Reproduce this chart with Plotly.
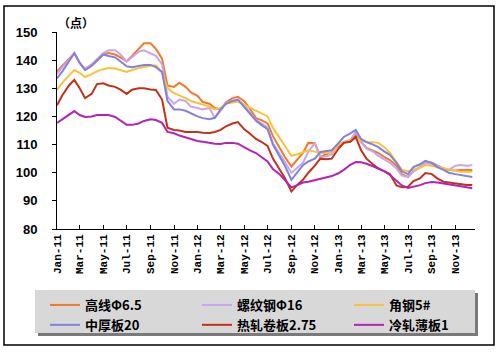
import plotly.graph_objects as go

# semi-monthly observation dates, Jan 2011 - Dec 2013
dates = []
for yr in (2011, 2012, 2013):
    for mo in range(1, 13):
        dates.append(f"{yr}-{mo:02d}-01")
        dates.append(f"{yr}-{mo:02d}-15")

gaoxian = [136, 138, 140.5, 142.5, 139, 136.5, 138, 140, 142, 142.5, 142, 141,
           139.5, 141.5, 144, 146, 146, 144, 140.5, 131, 130.5, 132, 130.5, 128.5,
           127.3, 125.1, 124.5, 123, 122.5, 125, 126.5, 127, 125.5, 123, 119.4, 118.7,
           117.5, 113, 109, 105.6, 102.2, 104.5, 107, 110.6, 110.5, 105.6, 106.5, 107.4,
           109.5, 110.6, 111.5, 113.4, 111, 108.8, 107.8, 107, 105.5, 104.5, 102.5, 99.5,
           98.5, 100.5, 102, 103.5, 103.5, 102.5, 101.5, 101, 100.8, 101, 101, 101]
luowen = [135, 137.5, 140, 142.5, 139, 137, 138.5, 140.5, 142.5, 143.5, 143.5, 142,
          139.5, 141, 143, 143.5, 142.5, 141.5, 138.5, 127, 124.5, 126, 125.5, 123.5,
          123, 122.5, 123, 119.5, 122, 124.8, 125.5, 126, 124, 121.5, 118.7, 117.5,
          116, 110.5, 107, 103.8, 100, 101.5, 103.5, 107.5, 110.5, 105.6, 105.8, 106.5,
          110, 111, 111.5, 114.5, 111, 108.5, 107.5, 106, 104.5, 103.5, 101.5, 99,
          98.5, 100.5, 102, 103.5, 103, 102.5, 101.5, 101, 102.5, 102.7, 102.5, 102.7]
jiaogang = [129.5, 132, 134.5, 136.5, 135.5, 134, 135, 136, 136.8, 137.2, 137, 136.5,
            135.8, 136.5, 137.2, 137.6, 138, 138.2, 135.5, 130, 128.3, 127.5, 126.5, 125.5,
            124.8, 124.3, 123.5, 122.5, 123, 124.5, 125, 125.3, 124.2, 123.2, 122.2, 121,
            120, 116, 112.5, 109.9, 106, 106.5, 107.4, 108, 107.5, 107, 107, 107.2,
            110, 110.8, 111.5, 112.3, 111.5, 110.9, 110.8, 110.6, 109, 107, 103.8, 101,
            100.5, 101, 101.8, 102.7, 102.5, 102, 101.5, 101, 100.5, 100.3, 100.3, 100.3]
zhonghou = [133.5, 136, 139.5, 142.5, 139, 136.5, 138, 140, 142, 141.5, 141, 139.5,
            137.8, 137.5, 138, 138.3, 138.3, 137.5, 135.8, 125.5, 122.5, 122.5, 122, 121,
            120, 119.4, 119, 119.5, 122.5, 124.5, 125.5, 126, 123.5, 121, 118.5, 117,
            115.5, 110, 106, 102.5, 97.5, 100, 102.7, 104, 105, 107.4, 107.8, 108,
            110.5, 112.7, 114, 115.2, 112, 110.9, 110, 109.1, 107.5, 106.3, 103.5, 100.5,
            99.5, 102, 103, 104.2, 103.5, 102, 101, 100, 99.5, 99.2, 98.7, 98.5]
rezha = [124, 127.5, 131, 133, 130, 126.5, 128, 131.5, 131.8, 131, 130.5, 129.5,
         128, 129.5, 130, 130, 129.6, 129.4, 126, 116, 115.2, 115, 114.5, 114.5,
         114.5, 114.2, 114.1, 114.5, 115.2, 116.5, 117.5, 118, 115.5, 114, 112, 111,
         109.5, 105, 101, 98.1, 93.3, 95.5, 97.5, 100, 102.5, 105, 104.8, 105,
         108.5, 110.6, 111, 112.7, 108, 105, 103, 101.5, 100.5, 99.5, 95.5, 94.8,
         95, 97, 98, 99.9, 99.5, 98, 96.8, 96.5, 96, 95.8, 95.6, 95.6]
lengzha = [117.7, 119, 120.5, 121.9, 120.5, 119.8, 120, 120.5, 120.5, 120.5, 119.8, 118.5,
           117, 117, 117.5, 118.4, 119, 118.7, 117.7, 114.5, 114, 113.2, 112.5, 112,
           111.3, 111, 110.6, 110.3, 110.2, 110.6, 110.6, 110.3, 109.1, 108, 107, 105.5,
           104, 101.3, 99.5, 97.4, 94.8, 95.5, 96.5, 96.8, 97.4, 98, 98.3, 98.8,
           99.8, 101, 102.8, 103.8, 103.7, 103.2, 102.3, 101.5, 100.5, 99.2, 97.2, 95.5,
           94.6, 95, 95.6, 96.3, 96.7, 96.5, 96.2, 96, 95.5, 95.2, 94.8, 94.5]

names = ["高线Φ6.5", "螺纹钢Φ16", "角钢5#", "中厚板20", "热轧卷板2.75", "冷轧薄板1"]
series = [gaoxian, luowen, jiaogang, zhonghou, rezha, lengzha]
colors = ["#F07A2A", "#C8A6EE", "#FAC23A", "#8282DC", "#C0321A", "#B424B4"]

fig = go.Figure()
for n, s, c in zip(names, series, colors):
    fig.add_trace(go.Scatter(x=dates, y=s, mode="lines", name=n,
                             line=dict(color=c, width=2)))

W, H = 501, 353
L, R, T, B = 57, 475, 32, 229
pw, ph = R - L, B - T
def px(x): return (x - L) / pw
def py(y): return (B - y) / ph

shapes = [
    dict(type="rect", xref="paper", yref="paper", x0=px(4), x1=px(494), y0=py(345), y1=py(6),
         line=dict(color="black", width=1.5), fillcolor="rgba(0,0,0,0)", layer="below"),
    dict(type="rect", xref="paper", yref="paper", x0=px(38), x1=px(478), y0=py(336), y1=py(293),
         line=dict(width=0), fillcolor="#7a7a7a", layer="below"),
    dict(type="rect", xref="paper", yref="paper", x0=px(35), x1=px(475), y0=py(333), y1=py(290),
         line=dict(width=0), fillcolor="#d8d8d8", layer="below"),
]

fig.update_layout(
    width=W, height=H,
    margin=dict(l=L, r=W - R, t=T, b=H - B),
    paper_bgcolor="white", plot_bgcolor="white",
    shapes=shapes,
    showlegend=True,
    legend=dict(orientation="h", x=px(52), xanchor="left", y=py(290), yanchor="top",
                bgcolor="rgba(0,0,0,0)", entrywidth=107, entrywidthmode="pixels",
                font=dict(family="Noto Sans CJK SC", size=13, color="black", weight="bold"),
                itemwidth=30),
    xaxis=dict(type="date", range=["2011-01-01", "2013-12-22"],
               tick0="2011-01-01", dtick="M2", tickformat="%b-%y",
               tickangle=-90, ticks="inside", ticklen=4, tickcolor="black",
               showline=True, linecolor="black", linewidth=1, showgrid=False, zeroline=False,
               tickfont=dict(family="Liberation Mono", size=11, color="black", weight="bold")),
    yaxis=dict(range=[80, 150], dtick=10, ticks="outside", ticklen=4, tickcolor="black",
               showline=True, linecolor="black", linewidth=1, showgrid=False, zeroline=False,
               ticklabelstandoff=12,
               tickfont=dict(family="Liberation Sans", size=13, color="black", weight="bold")),
    annotations=[dict(text="（点）", xref="paper", yref="paper", x=px(56), y=py(22),
                      xanchor="left", yanchor="middle", showarrow=False,
                      font=dict(family="Noto Sans CJK SC", size=12, color="black", weight="bold"))],
)

fig.write_html("out.html")
